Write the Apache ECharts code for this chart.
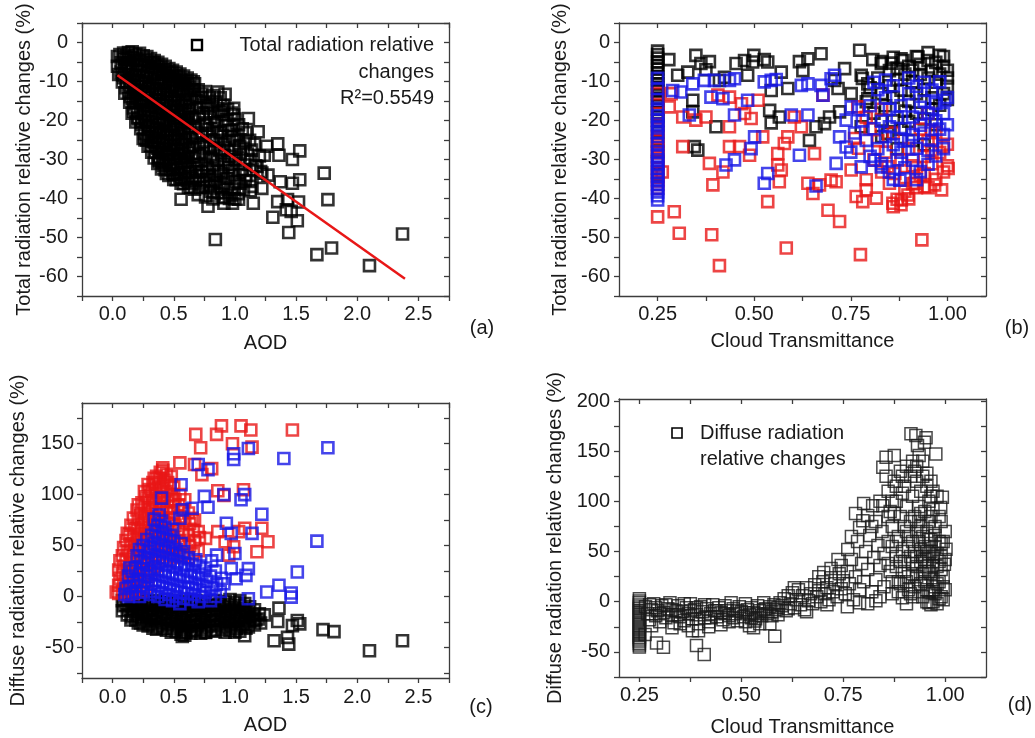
<!DOCTYPE html>
<html><head><meta charset="utf-8">
<script src="https://cdn.jsdelivr.net/npm/echarts@6/dist/echarts.min.js"></script>
<style>html,body{margin:0;padding:0;background:#fff}#c{width:1035px;height:738px}</style>
</head><body><div id="c"></div>
<script>
// ---------- Panel (a): Total radiation relative changes vs AOD ----------
const aTotal = [
[0.04,-3.6],[0.04,-6.1],[0.05,-8.2],[0.06,-3.1],[0.07,-5.2],[0.07,-7.6],[0.08,-10.1],[0.09,-2.7],[0.10,-4.3],[0.10,-6.8],[0.09,-9.0],[0.11,-11.6],[0.10,-13.0],
[0.13,-2.6],[0.12,-5.4],[0.13,-8.1],[0.14,-10.4],[0.13,-12.9],[0.14,-15.3],
[0.16,-2.4],[0.17,-4.6],[0.16,-7.2],[0.15,-9.6],[0.17,-12.1],[0.16,-14.4],[0.17,-16.8],[0.16,-18.1],
[0.19,-3.0],[0.20,-5.7],[0.19,-8.3],[0.18,-10.9],[0.20,-13.2],[0.19,-15.7],[0.20,-18.0],[0.19,-20.4],
[0.22,-2.8],[0.23,-4.7],[0.22,-7.1],[0.21,-9.4],[0.23,-12.2],[0.22,-14.6],[0.23,-17.3],[0.21,-19.6],[0.23,-22.1],
[0.25,-3.4],[0.26,-6.0],[0.25,-8.6],[0.24,-11.2],[0.26,-13.4],[0.25,-16.1],[0.26,-18.7],[0.24,-21.0],[0.26,-23.3],[0.25,-24.6],
[0.28,-3.6],[0.29,-5.2],[0.28,-7.7],[0.27,-10.1],[0.29,-12.6],[0.28,-15.2],[0.29,-17.4],[0.27,-20.2],[0.29,-22.7],[0.28,-25.0],[0.29,-26.6],
[0.31,-4.1],[0.32,-6.4],[0.31,-9.1],[0.30,-11.7],[0.32,-14.0],[0.31,-16.6],[0.32,-19.2],[0.30,-21.4],[0.32,-24.1],[0.31,-26.4],[0.32,-28.1],
[0.34,-4.6],[0.35,-5.8],[0.34,-8.1],[0.33,-10.6],[0.35,-13.1],[0.34,-15.7],[0.35,-18.2],[0.33,-20.6],[0.35,-23.0],[0.34,-25.7],[0.35,-28.2],[0.34,-29.6],
[0.37,-5.1],[0.38,-7.2],[0.37,-9.6],[0.36,-12.0],[0.38,-14.7],[0.37,-17.1],[0.38,-19.6],[0.36,-22.2],[0.38,-24.4],[0.37,-27.1],[0.38,-29.4],[0.37,-31.0],
[0.40,-5.6],[0.41,-8.1],[0.40,-10.4],[0.39,-13.2],[0.41,-15.6],[0.40,-18.1],[0.41,-20.7],[0.39,-23.1],[0.41,-25.4],[0.40,-28.2],[0.41,-30.6],[0.40,-32.4],
[0.43,-6.1],[0.44,-7.6],[0.43,-10.2],[0.42,-12.4],[0.44,-15.1],[0.43,-17.7],[0.44,-20.1],[0.42,-22.6],[0.44,-25.2],[0.43,-27.4],[0.44,-30.1],[0.43,-32.6],[0.44,-33.6],
[0.46,-6.7],[0.47,-9.1],[0.46,-11.4],[0.45,-14.2],[0.47,-16.4],[0.46,-19.1],[0.47,-21.6],[0.45,-24.2],[0.47,-26.4],[0.46,-29.1],[0.47,-31.6],[0.46,-34.1],
[0.49,-7.1],[0.50,-8.6],[0.49,-11.1],[0.48,-13.6],[0.50,-16.2],[0.49,-18.4],[0.50,-21.1],[0.48,-23.6],[0.50,-26.2],[0.49,-28.4],[0.50,-31.1],[0.49,-33.6],[0.50,-35.1],
[0.52,-7.6],[0.53,-10.1],[0.52,-12.6],[0.51,-15.1],[0.53,-17.6],[0.52,-20.2],[0.53,-22.4],[0.51,-25.1],[0.53,-27.6],[0.52,-30.1],[0.53,-32.4],[0.52,-35.2],
[0.55,-8.1],[0.56,-9.6],[0.55,-12.1],[0.54,-14.6],[0.56,-17.2],[0.55,-19.4],[0.56,-22.1],[0.54,-24.6],[0.56,-27.2],[0.55,-29.4],[0.56,-32.1],[0.55,-34.6],[0.56,-36.1],
[0.58,-8.6],[0.59,-11.1],[0.58,-13.4],[0.57,-16.1],[0.59,-18.6],[0.58,-21.2],[0.59,-23.4],[0.57,-26.1],[0.59,-28.6],[0.58,-31.2],[0.59,-33.4],[0.58,-36.2],
[0.61,-9.1],[0.62,-10.6],[0.61,-13.2],[0.60,-15.4],[0.62,-18.1],[0.61,-20.6],[0.62,-23.2],[0.60,-25.4],[0.62,-28.1],[0.61,-30.6],[0.62,-33.2],[0.61,-35.4],[0.62,-37.1],
[0.64,-9.6],[0.65,-12.1],[0.64,-14.6],[0.63,-17.2],[0.65,-19.4],[0.64,-22.1],[0.65,-24.6],[0.63,-27.2],[0.65,-29.4],[0.64,-32.1],[0.65,-34.6],[0.64,-37.2],
[0.67,-10.6],[0.68,-14.2],[0.67,-19.1],[0.68,-24.3],[0.67,-29.2],[0.68,-33.1],[0.67,-37.6],
[0.70,-12.1],[0.71,-16.6],[0.70,-21.2],[0.71,-26.1],[0.70,-31.2],[0.71,-35.1],[0.70,-39.0],
[0.73,-13.2],[0.74,-18.1],[0.73,-23.2],[0.74,-28.1],[0.73,-33.2],[0.74,-37.1],
[0.76,-12.6],[0.77,-16.1],[0.76,-21.2],[0.77,-26.6],[0.76,-30.1],[0.77,-35.2],[0.76,-39.6],
[0.79,-14.1],[0.80,-19.2],[0.79,-24.1],[0.80,-29.2],[0.79,-34.1],[0.80,-38.2],
[0.82,-13.6],[0.83,-18.2],[0.82,-22.1],[0.83,-27.2],[0.82,-31.6],[0.83,-36.1],[0.82,-40.1],
[0.85,-15.1],[0.86,-20.2],[0.85,-25.1],[0.86,-30.2],[0.85,-35.1],[0.86,-38.6],
[0.88,-14.2],[0.89,-17.6],[0.88,-23.1],[0.89,-28.2],[0.88,-33.1],[0.89,-37.2],
[0.91,-16.1],[0.92,-21.2],[0.91,-26.1],[0.92,-31.2],[0.91,-36.1],[0.92,-39.6],
[0.94,-17.2],[0.95,-22.6],[0.94,-27.6],[0.95,-32.1],[0.94,-37.6],
[0.97,-18.1],[0.98,-24.1],[0.97,-29.2],[0.98,-34.1],[0.97,-39.1],
[1.00,-19.6],[1.01,-25.1],[1.00,-30.1],[1.01,-35.6],[1.00,-40.1],
[1.03,-21.1],[1.04,-26.6],[1.03,-31.1],[1.04,-36.1],
[1.06,-22.1],[1.07,-27.1],[1.06,-32.6],[1.07,-37.6],
[1.09,-23.1],[1.10,-28.6],[1.09,-34.1],
[1.12,-25.1],[1.13,-30.1],[1.12,-35.6],
[1.16,-26.1],[1.17,-31.6],[1.20,-29.1],[1.21,-33.1],
[0.665,-12.3],[0.685,-16.8],[0.675,-21.6],[0.665,-26.8],[0.685,-31.3],[0.675,-35.4],
[0.715,-14.0],[0.705,-18.8],[0.725,-23.8],[0.705,-28.6],[0.725,-33.1],[0.715,-37.2],
[0.745,-15.3],[0.755,-20.6],[0.745,-25.7],[0.755,-31.4],[0.745,-35.6],
[0.785,-16.9],[0.775,-22.3],[0.795,-27.0],[0.775,-32.2],[0.795,-36.6],
[0.815,-15.9],[0.835,-20.6],[0.825,-25.2],[0.815,-29.6],[0.835,-34.0],[0.825,-38.4],
[0.865,-17.6],[0.855,-22.8],[0.875,-27.6],[0.865,-32.8],[0.875,-36.8],
[0.905,-18.6],[0.895,-24.0],[0.915,-29.0],[0.905,-33.6],[0.895,-39.8],
[0.935,-19.8],[0.955,-25.0],[0.945,-30.0],[0.935,-34.8],[0.955,-40.0],
[0.985,-21.4],[0.995,-27.4],[0.985,-32.8],[0.995,-37.6],
[1.025,-23.6],[1.045,-28.8],[1.035,-33.8],[1.025,-38.8],
[1.085,-25.4],[1.075,-30.4],[1.085,-35.4],[1.135,-27.6],[1.145,-32.6],[1.125,-38.0],
[0.085,-4.0],[0.085,-8.3],[0.115,-3.4],[0.115,-7.2],[0.115,-10.0],[0.145,-3.8],[0.145,-6.3],[0.145,-11.3],[0.145,-13.9],[0.175,-3.7],[0.175,-8.8],[0.175,-13.5],[0.175,-17.6],
[0.205,-4.2],[0.205,-9.8],[0.205,-14.4],[0.205,-19.3],[0.235,-5.8],[0.235,-10.4],[0.235,-15.3],[0.235,-20.3],[0.265,-4.5],[0.265,-9.8],[0.265,-15.0],[0.265,-20.0],[0.265,-25.0],
[0.295,-6.3],[0.295,-11.2],[0.295,-16.3],[0.295,-21.4],[0.295,-24.3],[0.325,-5.2],[0.325,-10.4],[0.325,-15.3],[0.325,-20.4],[0.325,-25.3],[0.355,-7.0],[0.355,-11.8],[0.355,-16.6],[0.355,-21.8],[0.355,-26.6],
[0.385,-6.3],[0.385,-11.0],[0.385,-16.1],[0.385,-21.0],[0.385,-26.0],[0.385,-30.4],[0.415,-7.0],[0.415,-12.0],[0.415,-17.0],[0.415,-22.2],[0.415,-27.2],[0.415,-31.6],
[0.445,-8.6],[0.445,-13.3],[0.445,-18.6],[0.445,-23.6],[0.445,-28.6],[0.475,-7.8],[0.475,-12.6],[0.475,-17.6],[0.475,-22.8],[0.475,-27.6],[0.475,-32.6],
[0.505,-9.4],[0.505,-14.4],[0.505,-19.4],[0.505,-24.4],[0.505,-29.6],[0.505,-33.8],[0.535,-8.8],[0.535,-13.8],[0.535,-18.8],[0.535,-23.8],[0.535,-28.8],[0.535,-33.8],
[0.565,-10.4],[0.565,-15.4],[0.565,-20.4],[0.565,-25.6],[0.565,-30.6],[0.565,-35.0],[0.595,-9.8],[0.595,-14.8],[0.595,-19.8],[0.595,-24.8],[0.595,-29.8],[0.595,-34.8],
[0.625,-11.4],[0.625,-16.4],[0.625,-21.6],[0.625,-26.6],[0.625,-31.6],[0.625,-36.0],
[0.84,-50.5],[1.67,-54.4],[1.79,-52.7],[2.10,-57.2],[2.37,-49.1],[1.73,-33.5],[1.76,-40.3],[1.31,-44.8],[1.44,-48.7],[1.46,-43.3],
[1.51,-45.7],[1.47,-36.1],[1.53,-35.2],[1.53,-27.8],[1.47,-30.0],[1.36,-28.9],[1.35,-26.0],[1.26,-26.6],[1.24,-28.9],[1.37,-35.7],
[1.35,-40.8],[1.43,-40.3],[1.42,-42.9],[1.52,-40.9],[1.27,-34.0],[1.22,-37.4],[1.11,-19.5],[1.19,-22.9],[1.15,-41.2],[1.03,-40.2],
[0.98,-41.2],[0.91,-41.2],[0.78,-42.0],[0.56,-40.2],[0.38,-30.1],[0.86,-12.7],[0.92,-13.3],[0.99,-16.9],[0.99,-18.6],[0.66,-10.1],
[0.97,-22.5],[1.14,-36.9],[1.18,-31.8],[1.22,-33.5]
];
const aFit = [[0.04,-8.4],[2.39,-60.6]];

// ---------- Panel (b): Total radiation relative changes vs cloud transmittance ----------
const bBlack = [
[0.25,-2.2],[0.25,-3.1],[0.25,-4.0],[0.25,-5.0],[0.25,-5.9],[0.25,-6.8],[0.25,-7.8],[0.25,-8.7],[0.25,-9.6],[0.25,-10.6],[0.25,-11.5],[0.25,-12.4],[0.25,-13.4],[0.25,-14.3],[0.25,-15.2],[0.25,-16.2],[0.25,-17.1],[0.25,-18.0],[0.25,-19.0],[0.25,-20.0],[0.25,-21.3],[0.25,-23.1],[0.25,-25.4],[0.25,-27.8],[0.25,-30.6],[0.25,-33.9],
[0.279,-4.4],[0.302,-8.4],[0.328,-7.6],[0.349,-3.3],[0.362,-5.4],[0.384,-4.9],[0.375,-7.0],[0.341,-14.8],[0.341,-17.8],[0.345,-26.7],[0.354,-27.6],[0.401,-21.6],[0.41,-9.7],[0.423,-8.9],[0.453,-5.4],[0.475,-4.6],[0.499,-3.3],[0.496,-5.0],[0.483,-8.4],[0.526,-4.4],[0.535,-5.0],[0.544,-12.3],[0.54,-17.4],[0.544,-20.6],[0.565,-19.1],[0.57,-7.6],[0.587,-11.8],[0.617,-4.9],[0.626,-7.2],[0.639,-4.2],[0.673,-2.9],[0.643,-25.1],[0.66,-21.6],[0.682,-20.8],[0.695,-19.1],[0.708,-9.7],[0.717,-11.8],[0.721,-17.8],[0.734,-6.7],[0.751,-13.1],[0.773,-2.0],[0.777,-8.4],[0.807,-4.4],[0.777,-21.6],[0.794,-14.4],[0.829,-5.4],[0.855,-5.3],[0.885,-4.6],[0.924,-3.7],[0.98,-3.3],[0.829,-19.9],[0.846,-23.3],[0.794,-10.6],
[0.88,-4.2],[0.90,-6.1],[0.92,-3.6],[0.93,-5.6],[0.95,-4.6],[0.96,-7.1],[0.97,-5.1],[0.98,-8.1],[0.99,-6.1],[1.0,-9.1],[1.0,-11.2],[0.99,-13.1],[0.97,-10.2],[0.95,-9.1],[0.93,-8.2],[0.91,-10.1],[0.89,-8.1],[0.87,-9.6],[0.85,-11.1],[0.86,-14.1],[0.88,-12.2],[0.90,-15.1],[0.92,-13.1],[0.94,-12.1],[0.96,-14.2],[0.98,-16.1],[0.84,-16.2],[0.86,-20.1],[0.88,-22.2],[0.83,-24.1],[0.90,-20.2],[0.92,-18.1],[0.85,-7.2],[0.82,-9.1],[0.80,-11.6],[0.78,-9.2],[0.83,-13.1],[0.79,-15.2],[0.81,-18.1],[0.94,-26.2],[0.91,-25.1],[0.87,-27.2],[0.97,-21.1],[1.0,-7.1],[0.99,-3.6],[0.95,-2.6],[0.89,-17.6],[0.94,-19.6],[0.96,-17.1],[1.0,-14.6],[0.87,-6.6],[0.91,-7.1],[0.83,-4.9],[0.86,-3.8]
];
const bBlue = [
[0.25,-9.2],[0.25,-11.8],[0.25,-14.6],[0.25,-16.9],[0.25,-18.8],[0.25,-19.9],[0.25,-20.9],[0.25,-21.9],[0.25,-23.0],[0.25,-24.1],[0.25,-26.0],[0.25,-28.0],[0.25,-29.1],[0.25,-30.1],[0.25,-31.1],[0.25,-32.2],[0.25,-33.2],[0.25,-34.2],[0.25,-35.2],[0.25,-36.3],[0.25,-37.3],[0.25,-38.3],[0.25,-39.3],[0.25,-40.4],
[0.289,-12.3],[0.31,-12.7],[0.332,-18.6],[0.341,-10.6],[0.371,-9.7],[0.388,-14.0],[0.397,-9.7],[0.419,-14.4],[0.436,-9.7],[0.449,-9.3],[0.449,-18.6],[0.449,-30.1],[0.427,-31.4],[0.483,-14.8],[0.501,-24.2],[0.492,-27.2],[0.526,-10.1],[0.544,-9.7],[0.557,-9.5],[0.535,-33.6],[0.526,-36.1],[0.596,-18.6],[0.622,-11.0],[0.639,-10.6],[0.617,-28.9],[0.639,-18.6],[0.673,-11.0],[0.678,-13.5],[0.699,-9.3],[0.708,-8.4],[0.712,-31.0],[0.721,-24.2],[0.738,-19.9],[0.738,-26.8],[0.751,-16.5],[0.777,-31.9],[0.812,-30.2],[0.877,-35.3],[0.829,-31.9],[0.993,-14.8],[0.66,-36.8],
[0.82,-12.1],[0.84,-14.2],[0.86,-11.1],[0.88,-16.2],[0.90,-13.1],[0.92,-11.2],[0.94,-15.1],[0.96,-12.2],[0.98,-10.1],[1.0,-14.1],[0.99,-18.2],[0.97,-20.1],[0.95,-18.1],[0.93,-21.2],[0.91,-19.1],[0.89,-22.1],[0.87,-19.2],[0.85,-17.1],[0.83,-20.2],[0.81,-22.1],[0.80,-16.2],[0.79,-25.1],[0.82,-27.2],[0.84,-24.1],[0.86,-26.2],[0.88,-28.1],[0.90,-25.2],[0.92,-27.1],[0.94,-23.2],[0.96,-25.1],[0.98,-22.2],[1.0,-21.1],[0.99,-27.2],[0.97,-29.1],[0.95,-31.2],[0.93,-33.1],[0.91,-30.2],[0.89,-32.1],[0.87,-30.1],[0.85,-33.2],[0.83,-31.1],[0.80,-29.2],[0.78,-20.1],[0.76,-23.2],[0.75,-28.1],[0.77,-17.2],[0.86,-35.1],[0.92,-35.2],[0.94,-10.2],[0.90,-9.1],[0.81,-10.2],[0.84,-9.6],[0.96,-19.6],[0.93,-16.6],[0.88,-24.6],[0.91,-23.6],[0.95,-27.6],[0.85,-21.6],[0.97,-15.6],[0.99,-23.6]
];
const bRed = [
[0.25,-13.1],[0.25,-18.2],[0.25,-22.1],[0.25,-24.2],[0.25,-25.2],[0.25,-26.3],[0.25,-27.2],[0.25,-28.3],[0.25,-29.4],[0.25,-30.5],[0.25,-32.2],[0.25,-33.3],[0.25,-34.4],[0.25,-35.5],[0.25,-36.4],[0.25,-37.4],[0.25,-44.7],[0.262,-33.2],
[0.293,-43.4],[0.306,-48.9],[0.39,-49.3],[0.41,-57.2],[0.583,-52.7],[0.775,-54.4],[0.934,-50.6],[0.285,-13.1],[0.28,-16.5],[0.315,-19.1],[0.315,-26.7],[0.349,-19.9],[0.375,-19.1],[0.384,-31.0],[0.393,-36.5],[0.419,-33.2],[0.436,-21.6],[0.436,-26.7],[0.462,-26.7],[0.406,-13.5],[0.436,-14.0],[0.467,-15.7],[0.475,-18.2],[0.488,-28.9],[0.492,-19.5],[0.51,-14.8],[0.522,-24.2],[0.535,-40.8],[0.561,-28.5],[0.561,-31.4],[0.565,-35.7],[0.57,-32.7],[0.578,-25.9],[0.587,-24.2],[0.604,-19.1],[0.622,-21.6],[0.639,-36.1],[0.656,-28.5],[0.652,-38.7],[0.669,-36.5],[0.678,-13.5],[0.691,-43.0],[0.699,-35.3],[0.712,-35.7],[0.721,-45.9],[0.751,-32.7],[0.76,-24.6],[0.764,-39.5],[0.781,-40.8],[0.79,-37.8],[0.816,-39.9],[0.768,-16.5],[0.859,-41.2],[0.881,-40.4],[0.898,-39.1],[0.915,-36.1],[0.941,-37.0],[0.967,-36.5],[0.985,-37.8],[1.002,-32.3],[0.989,-26.7],[0.959,-22.5],[0.95,-18.2],[0.846,-31.9],[0.864,-33.6],
[0.80,-22.1],[0.82,-25.2],[0.84,-28.1],[0.86,-23.2],[0.88,-30.1],[0.90,-27.2],[0.92,-32.1],[0.94,-29.2],[0.96,-31.1],[0.98,-28.2],[1.0,-26.1],[0.99,-33.2],[0.97,-35.1],[0.95,-37.2],[0.93,-34.1],[0.91,-36.2],[0.89,-38.1],[0.87,-40.2],[0.86,-42.1],[0.88,-41.6],[0.90,-40.1],[0.92,-37.2],[0.85,-36.1],[0.83,-33.2],[0.81,-30.1],[0.79,-35.2],[0.77,-27.1],[0.79,-19.2],[0.83,-17.1],[0.95,-25.2],[0.97,-23.1],[0.93,-22.2],[1.0,-31.6],[0.91,-31.6],[0.94,-33.6],[0.89,-34.6],[0.96,-27.6]
];

// ---------- Panel (c): Diffuse radiation relative changes vs AOD ----------
const cBlack = [
[0.08,-4],[0.09,-9],[0.08,-14],[0.12,-3],[0.11,-8],[0.13,-13],[0.12,-18],
[0.16,-5],[0.15,-10],[0.17,-15],[0.16,-20],[0.15,-23],[0.20,-3],[0.19,-8],[0.21,-13],[0.20,-18],[0.19,-23],[0.21,-26],
[0.24,-6],[0.23,-11],[0.25,-16],[0.24,-21],[0.23,-26],[0.25,-28],[0.28,-4],[0.27,-9],[0.29,-14],[0.28,-19],[0.27,-24],[0.29,-29],
[0.32,-7],[0.31,-12],[0.33,-17],[0.32,-22],[0.31,-27],[0.33,-31],[0.36,-4],[0.35,-9],[0.37,-14],[0.36,-19],[0.35,-24],[0.37,-29],[0.36,-32],
[0.40,-6],[0.39,-11],[0.41,-16],[0.40,-21],[0.39,-26],[0.41,-31],[0.44,-3],[0.43,-8],[0.45,-13],[0.44,-18],[0.43,-23],[0.45,-28],[0.44,-33],
[0.48,-6],[0.47,-11],[0.49,-16],[0.48,-21],[0.47,-26],[0.49,-31],[0.48,-35],[0.52,-4],[0.51,-9],[0.53,-14],[0.52,-19],[0.51,-24],[0.53,-29],[0.52,-34],
[0.56,-7],[0.55,-12],[0.57,-17],[0.56,-22],[0.55,-27],[0.57,-32],[0.56,-37],[0.60,-5],[0.59,-10],[0.61,-15],[0.60,-20],[0.59,-25],[0.61,-30],[0.60,-35],[0.59,-38],
[0.64,-8],[0.63,-13],[0.65,-18],[0.64,-23],[0.63,-28],[0.65,-33],[0.64,-36],[0.68,-4],[0.67,-9],[0.69,-14],[0.68,-19],[0.67,-24],[0.69,-29],[0.68,-34],
[0.72,-7],[0.71,-12],[0.73,-17],[0.72,-22],[0.71,-27],[0.73,-32],[0.72,-36],[0.76,-5],[0.75,-10],[0.77,-15],[0.76,-20],[0.75,-25],[0.77,-30],[0.76,-35],
[0.80,-8],[0.79,-13],[0.81,-18],[0.80,-23],[0.79,-28],[0.81,-33],[0.84,-4],[0.83,-9],[0.85,-14],[0.84,-19],[0.83,-24],[0.85,-29],[0.84,-34],
[0.88,-7],[0.87,-12],[0.89,-17],[0.88,-22],[0.87,-27],[0.89,-32],[0.92,-5],[0.91,-10],[0.93,-15],[0.92,-20],[0.91,-25],[0.93,-30],[0.92,-35],
[0.96,-3],[0.95,-8],[0.97,-13],[0.96,-18],[0.95,-23],[0.97,-28],[0.96,-33],[1.00,-6],[0.99,-11],[1.01,-16],[1.00,-21],[0.99,-26],[1.01,-31],[1.00,-35],
[1.04,-4],[1.03,-9],[1.05,-14],[1.04,-19],[1.03,-24],[1.05,-29],[1.04,-34],[1.08,-7],[1.07,-12],[1.09,-17],[1.08,-22],[1.07,-27],[1.09,-31],
[1.12,-10],[1.11,-15],[1.13,-20],[1.12,-25],[1.11,-30],[1.16,-13],[1.15,-18],[1.17,-23],[1.16,-28],[1.20,-17],[1.19,-22],[1.21,-26],
[1.32,-43.4],[1.36,-11.4],[1.35,-24.6],[1.43,-40.1],[1.44,-46.7],[1.47,-28.6],[1.51,-23.6],[1.53,-26.9],[1.72,-32.5],[1.81,-34.5],[2.10,-53.3],[2.37,-43.4],
[1.24,-18.0],[1.15,-23.6],[1.09,-15.4],[1.08,-38.5],[0.76,-35.2],[0.57,-39.1],[0.59,-35.2]
];
const cRed = [
[0.05,3],[0.05,11],[0.06,18],[0.05,26],[0.06,35],[0.08,5],[0.09,13],[0.08,22],[0.09,30],[0.08,40],[0.09,48],
[0.11,2],[0.12,9],[0.11,17],[0.12,27],[0.11,36],[0.12,45],[0.11,55],[0.12,62],[0.14,6],[0.15,15],[0.14,24],[0.15,33],[0.14,43],[0.15,52],[0.14,61],[0.15,70],
[0.17,3],[0.18,12],[0.17,21],[0.18,30],[0.17,40],[0.18,50],[0.17,60],[0.18,68],[0.17,77],[0.20,8],[0.21,18],[0.20,28],[0.21,38],[0.20,48],[0.21,58],[0.20,67],[0.21,76],[0.20,85],[0.21,90],
[0.23,5],[0.24,14],[0.23,25],[0.24,35],[0.23,45],[0.24,55],[0.23,65],[0.24,73],[0.23,82],[0.24,92],[0.26,10],[0.27,20],[0.26,31],[0.27,42],[0.26,52],[0.27,62],[0.26,71],[0.27,80],[0.26,89],[0.27,98],[0.26,103],
[0.29,15],[0.30,26],[0.29,37],[0.30,48],[0.29,58],[0.30,68],[0.29,78],[0.30,87],[0.29,96],[0.30,105],[0.29,110],[0.32,22],[0.33,33],[0.32,44],[0.33,55],[0.32,65],[0.33,75],[0.32,85],[0.33,94],[0.32,103],[0.33,112],[0.34,116],
[0.35,30],[0.36,41],[0.35,52],[0.36,62],[0.35,72],[0.36,82],[0.35,92],[0.36,101],[0.35,110],[0.36,118],[0.38,38],[0.39,48],[0.38,58],[0.39,68],[0.38,78],[0.39,88],[0.38,98],[0.39,108],[0.38,116],[0.39,122],
[0.41,45],[0.42,55],[0.41,65],[0.42,75],[0.41,86],[0.42,96],[0.41,106],[0.42,114],[0.41,124],[0.44,35],[0.45,50],[0.44,60],[0.45,72],[0.44,83],[0.45,93],[0.44,103],[0.45,112],[0.44,120],
[0.47,40],[0.48,52],[0.47,64],[0.48,76],[0.47,88],[0.48,100],[0.47,110],[0.48,118],[0.50,38],[0.51,48],[0.50,58],[0.51,70],[0.50,82],[0.51,95],[0.50,108],
[0.54,42],[0.55,55],[0.54,65],[0.55,78],[0.54,90],[0.55,100],[0.58,40],[0.59,52],[0.58,62],[0.59,75],[0.58,85],[0.59,95],[0.62,38],[0.63,50],[0.62,60],[0.63,72],[0.62,82],[0.66,42],[0.67,55],[0.66,65],[0.67,75],[0.70,45],[0.71,58],
[1.47,163.5],[0.68,159.2],[0.72,146.0],[0.89,167.5],[0.85,159.2],[0.98,150.0],[1.05,167.5],[1.13,163.5],[1.14,146.7],[0.55,131.2],[0.67,129.6],[0.81,125.6],[0.73,119.7],[0.86,103.9],[1.07,104.9],[0.91,99.3],
[0.99,48.8],[0.95,40.6],[1.18,43.9],[1.27,53.8],[1.22,67.0],[1.08,67.0],[1.03,63.7],[0.86,63.7],[0.92,53.8],[0.65,76.9],[0.70,63.7],[0.76,57.1],[0.03,4.4],[0.49,95.0],[0.41,126.3]
];
const cBlue = [
[0.10,2],[0.11,8],[0.13,0],[0.14,10],[0.13,20],[0.14,28],[0.16,3],[0.17,14],[0.16,25],
[0.19,5],[0.20,16],[0.19,28],[0.20,40],[0.22,0],[0.23,10],[0.22,22],[0.23,34],[0.22,46],
[0.25,4],[0.26,15],[0.25,27],[0.26,38],[0.25,50],[0.28,8],[0.29,20],[0.28,32],[0.29,44],[0.28,56],
[0.31,2],[0.32,12],[0.31,24],[0.32,36],[0.31,48],[0.32,60],[0.34,5],[0.35,16],[0.34,28],[0.35,40],[0.34,52],[0.35,64],[0.34,76],
[0.37,0],[0.38,10],[0.37,22],[0.38,34],[0.37,46],[0.38,58],[0.37,70],[0.38,80],[0.40,4],[0.41,14],[0.40,26],[0.41,38],[0.40,50],[0.41,62],[0.40,74],
[0.43,-3],[0.44,8],[0.43,20],[0.44,32],[0.43,44],[0.44,56],[0.43,68],[0.46,2],[0.47,12],[0.46,24],[0.47,36],[0.46,48],[0.47,60],
[0.49,-4],[0.50,6],[0.49,18],[0.50,30],[0.49,42],[0.50,54],[0.49,66],[0.52,0],[0.53,10],[0.52,22],[0.53,34],[0.52,46],
[0.55,-7],[0.56,4],[0.55,16],[0.56,28],[0.55,40],[0.56,52],[0.58,-2],[0.59,8],[0.58,20],[0.59,32],[0.58,44],
[0.61,3],[0.62,14],[0.61,26],[0.62,38],[0.64,-3],[0.65,8],[0.64,20],[0.65,32],[0.67,2],[0.68,12],[0.67,24],[0.68,36],
[0.70,-5],[0.71,6],[0.70,18],[0.71,30],[0.73,0],[0.74,10],[0.73,22],[0.76,4],[0.77,15],[0.76,28],[0.80,-4],[0.81,8],[0.80,20],[0.81,35],[0.84,0],[0.85,12],[0.84,25],[0.88,5],[0.89,18],
[1.67,54.4],[1.76,146.0],[1.40,135.5],[1.11,145.4],[0.99,134.5],[0.99,140.1],[1.08,100.0],[1.05,95.0],[1.22,80.8],[0.93,71.9],[0.91,100.0],[0.78,87.6],[0.75,98.3],[0.70,129.6],[0.78,124.6],
[0.56,109.8],[0.57,85.1],[0.55,76.9],[0.65,86.7],[0.40,96.6],[1.51,24.1],[1.46,3.4],[1.46,-0.6],[1.36,11.0],[1.26,4.4],[1.11,-2.2],[1.11,27.4],[1.09,20.8],[1.01,17.5],[1.00,42.3],[0.97,27.4],[0.91,12.6],[1.14,62.0],[0.85,40.6],[0.97,62.0]
];

// ---------- Panel (d): Diffuse radiation relative changes vs cloud transmittance ----------
const dDiffuse = [
[0.25,-45.2],[0.25,-43.1],[0.25,-41.4],[0.25,-39.2],[0.25,-37.1],[0.25,-35.3],[0.25,-33.2],[0.25,-31.1],[0.25,-29.2],[0.25,-27.1],[0.25,-25.3],[0.25,-23.2],[0.25,-21.1],[0.25,-19.2],[0.25,-17.1],[0.25,-15.3],[0.25,-13.2],[0.25,-11.1],[0.25,-9.2],[0.25,-7.1],[0.25,-5.3],[0.25,-3.2],[0.25,-1.1],[0.25,0.8],[0.25,2.9],
[0.265,-5],[0.27,-12],[0.275,-18],[0.28,-8],[0.285,-2],[0.29,-14],[0.295,-9],[0.30,-20],[0.305,-4],[0.31,-11],[0.315,-16],[0.32,-7],[0.325,-1],[0.33,-13],[0.335,-21],[0.34,-9],[0.345,-4],[0.35,-15],[0.355,-10],[0.36,-19],[0.365,-6],[0.37,-12],[0.375,-2],[0.38,-17],[0.385,-8],[0.39,-13],[0.395,-22],
[0.40,-5],[0.405,-10],[0.41,-16],[0.415,-7],[0.42,-20],[0.425,-12],[0.43,-3],[0.435,-9],[0.44,-15],[0.445,-6],[0.45,-11],[0.455,-18],[0.46,-4],[0.465,-9],[0.47,-14],[0.475,-1],[0.48,-7],[0.485,-12],[0.49,-19],[0.495,-5],
[0.50,-10],[0.505,-15],[0.51,-2],[0.515,-8],[0.52,-13],[0.525,-6],[0.53,-11],[0.535,-17],[0.54,-4],[0.545,-9],[0.55,-14],[0.555,-1],[0.56,-7],[0.565,-12],[0.57,-5],[0.575,-10],[0.58,-3],[0.585,-8],[0.59,-13],[0.595,-1],
[0.28,-24],[0.33,-26],[0.37,-24],[0.42,-25],[0.45,-23],[0.38,-29],[0.395,-29],[0.51,-20],[0.52,-24],[0.53,-26],[0.545,-22],[0.47,-20],[0.35,-22],
[0.275,-3],[0.29,-6],[0.30,-12],[0.315,-3],[0.33,-8],[0.345,-13],[0.36,-2],[0.375,-9],[0.39,-6],[0.41,-3],[0.425,-16],[0.44,-9],[0.46,-12],[0.48,-16],[0.49,-9],[0.51,-11],[0.525,-16],[0.54,-12],[0.555,-8],[0.575,-14],[0.59,-6],
[0.264,-32.7],[0.292,-41],[0.309,-45.3],[0.39,-43.7],[0.409,-52.7],[0.582,-34.3],[0.57,-22],[0.533,-19.3],
[0.60,-4],[0.605,3],[0.61,-9],[0.615,6],[0.62,-2],[0.625,9],[0.63,-6],[0.635,2],[0.64,12],[0.645,-3],[0.65,6],[0.655,-8],[0.66,14],[0.665,1],[0.67,8],[0.675,-2],[0.68,17],[0.685,5],[0.69,11],[0.695,0],
[0.70,20],[0.705,8],[0.71,14],[0.715,2],[0.72,24],[0.725,10],[0.73,18],[0.735,5],[0.74,28],[0.745,13],[0.75,21],[0.702,29],[0.737,42],[0.72,33],[0.69,25],[0.66,-10],[0.63,14],[0.615,-7],[0.745,36],[0.71,-3],
[0.755,8],[0.76,30],[0.761,52],[0.765,18],[0.77,42],[0.775,2],[0.78,25],[0.785,60],[0.79,12],[0.79,74],[0.795,38],[0.798,80.7],[0.80,20],[0.805,50],[0.81,-2],[0.81,32],[0.815,66],[0.82,10],[0.822,95.7],
[0.825,44],[0.83,22],[0.83,80],[0.835,56],[0.84,5],[0.84,36],[0.845,70],[0.847,95.7],[0.85,15],[0.85,48],[0.78,88],[0.80,98],[0.82,75],[0.77,65],[0.84,100],[0.76,-5],[0.79,-1],[0.83,1],[0.81,86],
[0.847,134],[0.855,144],[0.875,145.7],[0.855,125],[0.86,110],[0.865,90],[0.86,60],[0.865,30],[0.87,8],[0.87,75],[0.875,120],[0.88,45],[0.88,100],[0.885,20],[0.885,65],[0.89,130],[0.89,85],[0.895,4],[0.895,50],
[0.90,115],[0.90,30],[0.905,70],[0.905,95],[0.91,12],[0.91,55],[0.915,125],[0.915,80],[0.92,38],[0.92,105],[0.86,38],[0.87,55],[0.88,35],[0.875,88],[0.895,108],[0.905,-2],[0.89,18],
[0.916,167.3],[0.928,165.7],[0.953,163.3],[0.932,155.7],[0.936,145.7],[0.977,147.3],[0.949,159],
[0.925,130],[0.93,120],[0.935,95],[0.935,60],[0.93,25],[0.94,110],[0.94,75],[0.94,40],[0.945,5],[0.945,125],[0.95,90],[0.95,55],[0.95,20],[0.955,115],[0.955,70],[0.955,35],[0.96,100],[0.96,80],[0.96,48],[0.96,10],
[0.965,120],[0.965,62],[0.965,28],[0.97,92],[0.97,45],[0.97,0],[0.975,75],[0.975,15],[0.975,55],[0.98,105],[0.98,35],[0.98,-2],[0.985,85],[0.985,60],[0.985,20],[0.99,45],[0.99,5],[0.993,104],[0.989,94],[1.002,52.3],
[0.998,37.3],[0.995,25],[1.0,12],[1.0,70],[0.995,60],[0.99,80],[0.93,45],[0.925,85],[0.945,65],[0.935,10],[0.955,0],[0.965,-3],[0.97,110],[0.92,60],[0.925,15],
[0.885,10],[0.90,40],[0.91,25],[0.92,5],[0.93,35],[0.94,18],[0.95,42],[0.96,30],[0.97,22],[0.98,48],[0.99,32],[0.975,8],[0.965,50],[0.945,28],[0.955,12],[0.985,40],[0.995,15],[0.94,52],[0.915,45],[0.905,20],
[0.87,20],[0.88,60],[0.89,40],[0.90,75],[0.91,65],[0.92,28],[0.93,70],[0.94,88],[0.95,30],[0.96,62],[0.97,36],[0.98,18],[0.99,58],[1.0,42],[0.975,66],[0.965,85],[0.955,50],[0.945,45],[0.935,80],[0.925,50],
[0.915,8],[0.985,3],[0.995,2],[0.97,12],[0.96,-1],[0.86,85],[0.87,100],[0.88,115],[0.895,125],[0.905,135],[0.92,140],[0.93,135],[0.945,140],[0.955,128],[0.965,105]
];

// ---------- Axis ticks / labels ----------
const aodTicks = [-0.25,0,0.25,0.5,0.75,1,1.25,1.5,1.75,2,2.25,2.5,2.75];
const aodLabels = [0,0.5,1,1.5,2,2.5];
const ctTicks = [0.25,0.375,0.5,0.625,0.75,0.875,1];
const ctLabels = [0.25,0.5,0.75,1];
const totTicks = [-65,-60,-55,-50,-45,-40,-35,-30,-25,-20,-15,-10,-5,0,5];
const totLabels = [-60,-50,-40,-30,-20,-10,0];
const difTicksC = [-75,-50,-25,0,25,50,75,100,125,150,175];
const difLabelsC = [-50,0,50,100,150];
const difTicksD = [-75,-50,-25,0,25,50,75,100,125,150,175,200];
const difLabelsD = [-50,0,50,100,150,200];

const FONT = "'Liberation Sans', Arial, Helvetica, sans-serif";
const INK = '#1a1a1a';
const FRAME = '#3c3c3c';
const RED = '#e81717';
const BLUE = '#1717e6';

function xAxes(g, min, max, ticks, labels, digits, name, nameGap, margin) {
  const line = {show:true, onZero:false, lineStyle:{color:FRAME, width:1.3}};
  const tick = (inside) => ({show:true, inside, length:5, customValues:ticks, lineStyle:{color:FRAME, width:1.3}});
  return [
    {type:'value', gridIndex:g, position:'bottom', min, max, axisLine:line, axisTick:tick(false),
     axisLabel:{customValues:labels, formatter:v=>Number(v).toFixed(digits), margin, fontSize:20, color:INK, fontFamily:FONT},
     splitLine:{show:false}, name, nameLocation:'middle', nameGap,
     nameTextStyle:{fontSize:20, color:INK, fontFamily:FONT}},
    {type:'value', gridIndex:g, position:'top', min, max, axisLine:line, axisTick:tick(true),
     axisLabel:{show:false}, splitLine:{show:false}}
  ];
}
function yAxes(g, min, max, ticks, labels, name, nameGap, margin) {
  const line = {show:true, onZero:false, lineStyle:{color:FRAME, width:1.3}};
  const tick = (inside) => ({show:true, inside, length:5, customValues:ticks, lineStyle:{color:FRAME, width:1.3}});
  return [
    {type:'value', gridIndex:g, position:'left', min, max, axisLine:line, axisTick:tick(false),
     axisLabel:{customValues:labels, formatter:v=>String(Math.round(v)), margin, fontSize:20, color:INK, fontFamily:FONT},
     splitLine:{show:false}, name, nameLocation:'middle', nameGap,
     nameTextStyle:{fontSize:20, color:INK, fontFamily:FONT}},
    {type:'value', gridIndex:g, position:'right', min, max, axisLine:line, axisTick:tick(true),
     axisLabel:{show:false}, splitLine:{show:false}}
  ];
}
function sq(g, data, color, size, bw, z) {
  return {type:'scatter', xAxisIndex:2*g, yAxisIndex:2*g, data, symbol:'rect', symbolSize:size,
    itemStyle:{color:'rgba(0,0,0,0)', borderColor:color, borderWidth:bw}, silent:true, z:z||2, clip:true, large:false};
}

const TOT = 'Total radiation relative changes (%)';
const DIF = 'Diffuse radiation relative changes (%)';

const option = {
  animation:false,
  backgroundColor:'#fff',
  grid:[
    {left:82, top:23, width:367, height:273},
    {left:619, top:23, width:367, height:273},
    {left:82, top:403, width:367, height:275},
    {left:619, top:399, width:367, height:278}
  ],
  xAxis:[].concat(
    xAxes(0,-0.25,2.75,aodTicks,aodLabels,1,'AOD',37,8),
    xAxes(1,0.15,1.1,ctTicks,ctLabels,2,'Cloud Transmittance',35,8),
    xAxes(2,-0.25,2.75,aodTicks,aodLabels,1,'AOD',37,9),
    xAxes(3,0.2,1.1,ctTicks,ctLabels,2,'Cloud Transmittance',40,8)
  ),
  yAxis:[].concat(
    yAxes(0,-65,5,totTicks,totLabels,TOT,48,14),
    yAxes(1,-65,5,totTicks,totLabels,TOT,49,9),
    yAxes(2,-80,190,difTicksC,difLabelsC,DIF,54,8),
    yAxes(3,-75,202,difTicksD,difLabelsD,DIF,54,9)
  ),
  series:[
    sq(0,aTotal,'#000',11,2.6),
    {type:'line', xAxisIndex:0, yAxisIndex:0, data:aFit, showSymbol:false, symbol:'none',
     lineStyle:{color:RED, width:2.5}, z:5, silent:true},
    sq(1,bBlack,'#000',11,2.6),
    sq(1,bRed,RED,11,2.6),
    sq(1,bBlue,BLUE,11,2.6),
    sq(2,cBlack,'#000',11,2.6),
    sq(2,cRed,RED,11,2.6),
    sq(2,cBlue,BLUE,11,2.6),
    sq(3,dDiffuse,'#1a1a1a',12,1.5)
  ],
  graphic:[
    {type:'rect', shape:{x:192,y:40,width:10,height:10}, style:{fill:'none', stroke:'#000', lineWidth:2.4}},
    {type:'text', x:434, y:45, style:{text:'Total radiation relative', fontSize:20, fontFamily:FONT, fill:INK, align:'right', verticalAlign:'middle'}},
    {type:'text', x:434, y:72, style:{text:'changes', fontSize:20, fontFamily:FONT, fill:INK, align:'right', verticalAlign:'middle'}},
    {type:'text', x:434, y:98, style:{text:'R²=0.5549', fontSize:20, fontFamily:FONT, fill:INK, align:'right', verticalAlign:'middle'}},
    {type:'rect', shape:{x:672,y:428,width:10,height:10}, style:{fill:'none', stroke:'#000', lineWidth:1.6}},
    {type:'text', x:700, y:433, style:{text:'Diffuse radiation', fontSize:20, fontFamily:FONT, fill:INK, align:'left', verticalAlign:'middle'}},
    {type:'text', x:700, y:459, style:{text:'relative changes', fontSize:20, fontFamily:FONT, fill:INK, align:'left', verticalAlign:'middle'}},
    {type:'text', x:482, y:328, style:{text:'(a)', fontSize:20, fontFamily:FONT, fill:INK, align:'center', verticalAlign:'middle'}},
    {type:'text', x:1017, y:328, style:{text:'(b)', fontSize:20, fontFamily:FONT, fill:INK, align:'center', verticalAlign:'middle'}},
    {type:'text', x:481, y:707, style:{text:'(c)', fontSize:20, fontFamily:FONT, fill:INK, align:'center', verticalAlign:'middle'}},
    {type:'text', x:1020, y:705, style:{text:'(d)', fontSize:20, fontFamily:FONT, fill:INK, align:'center', verticalAlign:'middle'}}
  ]
};
const chart = echarts.init(document.getElementById('c'), null, {renderer:'canvas'});
chart.setOption(option);
</script>
</body></html>
